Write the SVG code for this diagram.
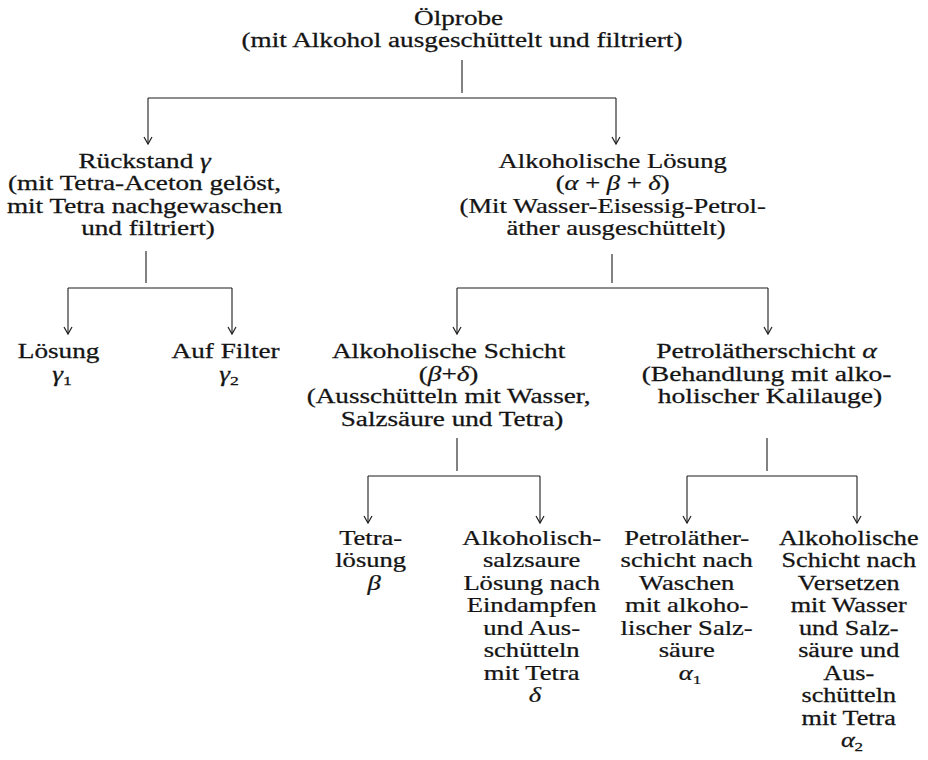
<svg xmlns="http://www.w3.org/2000/svg" width="928" height="760" viewBox="0 0 928 760" font-family="'Liberation Serif', 'Times New Roman', 'DejaVu Serif', serif">
  <style>
    .lbl { font-family: 'Liberation Serif', 'Times New Roman', 'DejaVu Serif', serif; font-size: 20px; fill: #141414; text-anchor: middle; stroke: #141414; stroke-width: 0.25px; }
    .m { font-style: italic; }
    .sub { font-size: 13px; font-style: normal; }
    .wire { fill: none; stroke: #1c1c1c; stroke-width: 1.1; }
    .drop { fill: none; stroke: #1c1c1c; stroke-width: 1.1; marker-end: url(#arrow); }
  </style>
  <defs>
    <marker id="arrow" viewBox="-9 -6 11 12" refX="0" refY="0" markerWidth="11" markerHeight="12" markerUnits="userSpaceOnUse" orient="auto">
      <path d="M-7,-4 L0,0 L-7,4" fill="none" stroke="#1c1c1c" stroke-width="1.2"/>
    </marker>
  </defs>
  <rect width="928" height="760" fill="#ffffff"/>

  <!-- connectors -->
  <g id="connectors">
    <!-- Ölprobe split -->
    <path class="wire" d="M462,60 V93 M148,98 H616"/>
    <path class="drop" d="M148,98 V144"/>
    <path class="drop" d="M616,98 V144"/>
    <!-- Rückstand split -->
    <path class="wire" d="M146,251 V283 M68,288 H232"/>
    <path class="drop" d="M68,288 V334"/>
    <path class="drop" d="M232,288 V334"/>
    <!-- Alkoholische Lösung split -->
    <path class="wire" d="M612,254 V283 M457,288 H768"/>
    <path class="drop" d="M457,288 V334"/>
    <path class="drop" d="M768,288 V334"/>
    <!-- Alkoholische Schicht split -->
    <path class="wire" d="M457,438 V471 M368,476 H540"/>
    <path class="drop" d="M368,476 V523"/>
    <path class="drop" d="M540,476 V523"/>
    <!-- Petrolätherschicht split -->
    <path class="wire" d="M767,438 V471 M687,476 H857"/>
    <path class="drop" d="M687,476 V523"/>
    <path class="drop" d="M857,476 V523"/>
  </g>

  <!-- nodes: labels are widened horizontally about their centre -->
  <g id="oelprobe" transform="translate(462,0)">
    <text class="lbl" transform="scale(1.36,1)">
      <tspan x="0" y="25">Ölprobe</tspan>
      <tspan x="0" y="47">(mit Alkohol ausgeschüttelt und filtriert)</tspan>
    </text>
  </g>

  <g id="rueckstand" transform="translate(148,0)">
    <text class="lbl" transform="scale(1.36,1)">
      <tspan x="0" y="168">Rückstand <tspan class="m">γ</tspan></tspan>
      <tspan x="0" y="190.5">(mit Tetra-Aceton gelöst,</tspan>
      <tspan x="0" y="213">mit Tetra nachgewaschen</tspan>
      <tspan x="0" y="235.5">und filtriert)</tspan>
    </text>
  </g>

  <g id="alk-loesung" transform="translate(616,0)">
    <text class="lbl" transform="scale(1.33,1)">
      <tspan x="0" y="168">Alkoholische Lösung</tspan>
      <tspan x="0" y="190.5">(<tspan class="m">α</tspan> + <tspan class="m">β</tspan> + <tspan class="m">δ</tspan>)</tspan>
      <tspan x="0" y="213">(Mit Wasser-Eisessig-Petrol-</tspan>
      <tspan x="0" y="235.5">äther ausgeschüttelt)</tspan>
    </text>
  </g>

  <g id="loesung-g1" transform="translate(62,0)">
    <text class="lbl" transform="scale(1.36,1)">
      <tspan x="0" y="358">Lösung</tspan>
      <tspan x="0" y="381"><tspan class="m">γ</tspan><tspan class="sub" dy="4">1</tspan></tspan>
    </text>
  </g>

  <g id="filter-g2" transform="translate(229,0)">
    <text class="lbl" transform="scale(1.36,1)">
      <tspan x="0" y="358">Auf Filter</tspan>
      <tspan x="0" y="381"><tspan class="m">γ</tspan><tspan class="sub" dy="4">2</tspan></tspan>
    </text>
  </g>

  <g id="alk-schicht" transform="translate(452,0)">
    <text class="lbl" transform="scale(1.36,1)">
      <tspan x="0" y="358">Alkoholische Schicht</tspan>
      <tspan x="0" y="381">(<tspan class="m">β</tspan>+<tspan class="m">δ</tspan>)</tspan>
      <tspan x="0" y="403.5">(Ausschütteln mit Wasser,</tspan>
      <tspan x="0" y="426">Salzsäure und Tetra)</tspan>
    </text>
  </g>

  <g id="petrol-schicht" transform="translate(770,0)">
    <text class="lbl" transform="scale(1.38,1)">
      <tspan x="0" y="358">Petrolätherschicht <tspan class="m">α</tspan></tspan>
      <tspan x="0" y="381">(Behandlung mit alko-</tspan>
      <tspan x="0" y="403.5">holischer Kalilauge)</tspan>
    </text>
  </g>

  <g id="tetra-beta" transform="translate(374,0)">
    <text class="lbl" transform="scale(1.33,1)">
      <tspan x="0" y="545">Tetra-</tspan>
      <tspan x="0" y="567.5">lösung</tspan>
      <tspan x="0" y="590" class="m">β</tspan>
    </text>
  </g>

  <g id="salzsauer-delta" transform="translate(535,0)">
    <text class="lbl" transform="scale(1.33,1)">
      <tspan x="0" y="545">Alkoholisch-</tspan>
      <tspan x="0" y="567.5">salzsaure</tspan>
      <tspan x="0" y="590">Lösung nach</tspan>
      <tspan x="0" y="612.5">Eindampfen</tspan>
      <tspan x="0" y="635">und Aus-</tspan>
      <tspan x="0" y="657.5">schütteln</tspan>
      <tspan x="0" y="680">mit Tetra</tspan>
      <tspan x="0" y="702.5" class="m">δ</tspan>
    </text>
  </g>

  <g id="petrol-a1" transform="translate(690,0)">
    <text class="lbl" transform="scale(1.33,1)">
      <tspan x="0" y="545">Petroläther-</tspan>
      <tspan x="0" y="567.5">schicht nach</tspan>
      <tspan x="0" y="590">Waschen</tspan>
      <tspan x="0" y="612.5">mit alkoho-</tspan>
      <tspan x="0" y="635">lischer Salz-</tspan>
      <tspan x="0" y="657.5">säure</tspan>
      <tspan x="0" y="680"><tspan class="m">α</tspan><tspan class="sub" dy="4">1</tspan></tspan>
    </text>
  </g>

  <g id="alk-a2" transform="translate(852,0)">
    <text class="lbl" transform="scale(1.31,1)">
      <tspan x="0" y="545">Alkoholische</tspan>
      <tspan x="0" y="567.5">Schicht nach</tspan>
      <tspan x="0" y="590">Versetzen</tspan>
      <tspan x="0" y="612.5">mit Wasser</tspan>
      <tspan x="0" y="635">und Salz-</tspan>
      <tspan x="0" y="657.5">säure und</tspan>
      <tspan x="0" y="680">Aus-</tspan>
      <tspan x="0" y="702.5">schütteln</tspan>
      <tspan x="0" y="725">mit Tetra</tspan>
      <tspan x="0" y="747.5"><tspan class="m">α</tspan><tspan class="sub" dy="4">2</tspan></tspan>
    </text>
  </g>
</svg>
